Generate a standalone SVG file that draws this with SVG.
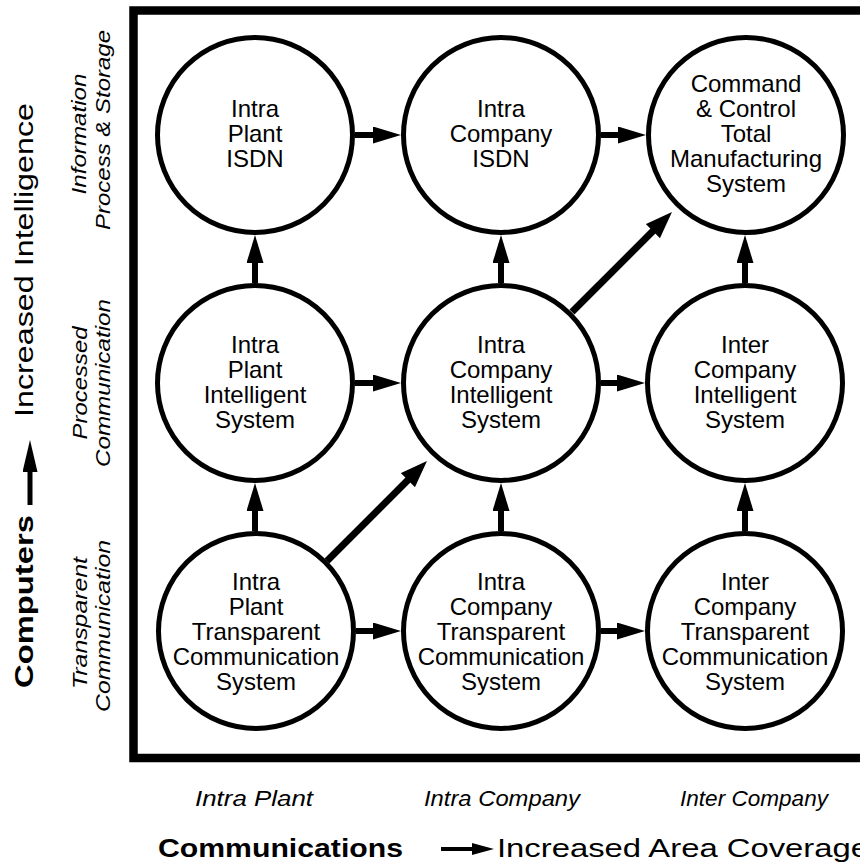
<svg xmlns="http://www.w3.org/2000/svg" width="860" height="867" viewBox="0 0 860 867">
  <style>
    .node circle { fill: #fff; stroke: #000; stroke-width: 5; }
    .node text { font-family: "Liberation Sans", Arial, sans-serif; font-size: 24px; fill: #000; text-anchor: middle; }
    .conn line { stroke: #000; fill: none; }
    .grid { stroke-width: 6; }
    .diag { stroke-width: 7; }
    .axis { font-family: "Liberation Sans", Arial, sans-serif; fill: #000; }
    .level { font-family: "Liberation Sans", Arial, sans-serif; font-style: italic; font-size: 20px; fill: #000; text-anchor: middle; }
    .area { font-family: "Liberation Sans", Arial, sans-serif; font-style: italic; font-size: 22px; fill: #000; text-anchor: middle; }
  </style>
  <defs>
    <marker id="head" markerUnits="userSpaceOnUse" markerWidth="28" markerHeight="17" refX="16" refY="8.5" orient="auto">
      <path d="M0,0 L28,8.5 L0,17 z" fill="#000"/>
    </marker>
    <marker id="headDiag" markerUnits="userSpaceOnUse" markerWidth="27" markerHeight="20" refX="15" refY="10" orient="auto">
      <path d="M0,0 L27,10 L0,20 z" fill="#000"/>
    </marker>
    <marker id="headAxisV" markerUnits="userSpaceOnUse" markerWidth="32" markerHeight="15" refX="19" refY="7.5" orient="auto">
      <path d="M0,0 L32,7.5 L0,15 z" fill="#000"/>
    </marker>
    <marker id="headAxisH" markerUnits="userSpaceOnUse" markerWidth="22" markerHeight="12" refX="12" refY="6" orient="auto">
      <path d="M0,0 L22,6 L0,12 z" fill="#000"/>
    </marker>
  </defs>

  <rect width="860" height="867" fill="#fff"/>

  <!-- frame around the matrix (right side runs off the page) -->
  <rect x="133.5" y="10.5" width="800" height="747.5" fill="none" stroke="#000" stroke-width="8.5"/>

  <!-- connectors -->
  <g id="connectors" class="conn">
    <!-- top row -->
    <line class="grid" x1="355" y1="135" x2="389" y2="135" marker-end="url(#head)"/>
    <line class="grid" x1="601" y1="135" x2="634" y2="135" marker-end="url(#head)"/>
    <!-- middle row -->
    <line class="grid" x1="355" y1="383" x2="389" y2="383" marker-end="url(#head)"/>
    <line class="grid" x1="601" y1="383" x2="633" y2="383" marker-end="url(#head)"/>
    <!-- bottom row -->
    <line class="grid" x1="356" y1="631" x2="389" y2="631" marker-end="url(#head)"/>
    <line class="grid" x1="601" y1="631" x2="633" y2="631" marker-end="url(#head)"/>
    <!-- verticals -->
    <line class="grid" x1="255" y1="531" x2="255" y2="495" marker-end="url(#head)"/>
    <line class="grid" x1="255" y1="283" x2="255" y2="247" marker-end="url(#head)"/>
    <line class="grid" x1="501" y1="531" x2="501" y2="495" marker-end="url(#head)"/>
    <line class="grid" x1="501" y1="283" x2="501" y2="247" marker-end="url(#head)"/>
    <line class="grid" x1="745" y1="531" x2="745" y2="495" marker-end="url(#head)"/>
    <line class="grid" x1="745" y1="283" x2="745" y2="247" marker-end="url(#head)"/>
    <!-- diagonals -->
    <line class="diag" x1="327" y1="561" x2="418.5" y2="469.5" marker-end="url(#headDiag)"/>
    <line class="diag" x1="572" y1="312" x2="663.5" y2="220.5" marker-end="url(#headDiag)"/>
  </g>

  <!-- nodes -->
  <g id="intra-plant-isdn" class="node">
    <circle cx="255" cy="135" r="97.5"/>
    <text x="255" y="117">Intra<tspan x="255" dy="25">Plant</tspan><tspan x="255" dy="25">ISDN</tspan></text>
  </g>
  <g id="intra-company-isdn" class="node">
    <circle cx="501" cy="135" r="97.5"/>
    <text x="501" y="117">Intra<tspan x="501" dy="25">Company</tspan><tspan x="501" dy="25">ISDN</tspan></text>
  </g>
  <g id="command-control" class="node">
    <circle cx="746" cy="135" r="97.5"/>
    <text x="746" y="92">Command<tspan x="746" dy="25">&amp; Control</tspan><tspan x="746" dy="25">Total</tspan><tspan x="746" dy="25">Manufacturing</tspan><tspan x="746" dy="25">System</tspan></text>
  </g>
  <g id="intra-plant-intelligent" class="node">
    <circle cx="255" cy="383" r="97.5"/>
    <text x="255" y="353">Intra<tspan x="255" dy="25">Plant</tspan><tspan x="255" dy="25">Intelligent</tspan><tspan x="255" dy="25">System</tspan></text>
  </g>
  <g id="intra-company-intelligent" class="node">
    <circle cx="501" cy="383" r="97.5"/>
    <text x="501" y="353">Intra<tspan x="501" dy="25">Company</tspan><tspan x="501" dy="25">Intelligent</tspan><tspan x="501" dy="25">System</tspan></text>
  </g>
  <g id="inter-company-intelligent" class="node">
    <circle cx="745" cy="383" r="97.5"/>
    <text x="745" y="353">Inter<tspan x="745" dy="25">Company</tspan><tspan x="745" dy="25">Intelligent</tspan><tspan x="745" dy="25">System</tspan></text>
  </g>
  <g id="intra-plant-transparent" class="node">
    <circle cx="256" cy="631" r="97.5"/>
    <text x="256" y="590">Intra<tspan x="256" dy="25">Plant</tspan><tspan x="256" dy="25">Transparent</tspan><tspan x="256" dy="25">Communication</tspan><tspan x="256" dy="25">System</tspan></text>
  </g>
  <g id="intra-company-transparent" class="node">
    <circle cx="501" cy="631" r="97.5"/>
    <text x="501" y="590">Intra<tspan x="501" dy="25">Company</tspan><tspan x="501" dy="25">Transparent</tspan><tspan x="501" dy="25">Communication</tspan><tspan x="501" dy="25">System</tspan></text>
  </g>
  <g id="inter-company-transparent" class="node">
    <circle cx="745" cy="631" r="97.5"/>
    <text x="745" y="590">Inter<tspan x="745" dy="25">Company</tspan><tspan x="745" dy="25">Transparent</tspan><tspan x="745" dy="25">Communication</tspan><tspan x="745" dy="25">System</tspan></text>
  </g>

  <!-- vertical axis: computers / intelligence -->
  <g id="axis-vertical">
    <text class="axis" transform="translate(33,688) rotate(-90)" font-size="25" font-weight="bold" textLength="173" lengthAdjust="spacingAndGlyphs">Computers</text>
    <line x1="30" y1="505" x2="30" y2="453" stroke="#000" stroke-width="5" marker-end="url(#headAxisV)"/>
    <text class="axis" transform="translate(33,417) rotate(-90)" font-size="25" textLength="314" lengthAdjust="spacingAndGlyphs">Increased Intelligence</text>
  </g>

  <!-- row levels -->
  <g id="row-levels">
    <text class="level" transform="translate(86,134) rotate(-90)" textLength="121" lengthAdjust="spacingAndGlyphs">Information</text>
    <text class="level" transform="translate(110,130) rotate(-90)" textLength="200" lengthAdjust="spacingAndGlyphs">Process &amp; Storage</text>
    <text class="level" transform="translate(87,383) rotate(-90)" textLength="113" lengthAdjust="spacingAndGlyphs">Processed</text>
    <text class="level" transform="translate(110,383) rotate(-90)" textLength="168" lengthAdjust="spacingAndGlyphs">Communication</text>
    <text class="level" transform="translate(87,623) rotate(-90)" textLength="132" lengthAdjust="spacingAndGlyphs">Transparent</text>
    <text class="level" transform="translate(110,626) rotate(-90)" textLength="172" lengthAdjust="spacingAndGlyphs">Communication</text>
  </g>

  <!-- column areas -->
  <g id="column-areas">
    <text class="area" x="254" y="806" textLength="118" lengthAdjust="spacingAndGlyphs">Intra Plant</text>
    <text class="area" x="502" y="806" textLength="156" lengthAdjust="spacingAndGlyphs">Intra Company</text>
    <text class="area" x="754" y="806" textLength="148" lengthAdjust="spacingAndGlyphs">Inter Company</text>
  </g>

  <!-- horizontal axis: communications / area coverage -->
  <g id="axis-horizontal">
    <text class="axis" x="158" y="857" font-size="25" font-weight="bold" textLength="245" lengthAdjust="spacingAndGlyphs">Communications</text>
    <line x1="441" y1="849" x2="484" y2="849" stroke="#000" stroke-width="4" marker-end="url(#headAxisH)"/>
    <text class="axis" x="497" y="857" font-size="25" textLength="372" lengthAdjust="spacingAndGlyphs">Increased Area Coverage</text>
  </g>
</svg>
